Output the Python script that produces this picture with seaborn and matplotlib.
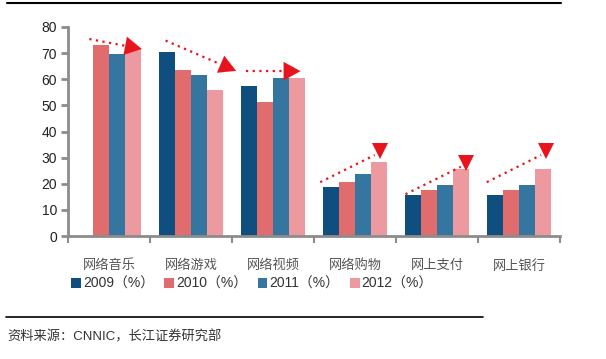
import numpy as np
import pandas as pd
import matplotlib
matplotlib.use("Agg")
import matplotlib.pyplot as plt
import seaborn as sns
from matplotlib.lines import Line2D
from matplotlib.patches import Patch

categories = ["网络音乐", "网络游戏", "网络视频", "网络购物", "网上支付", "网上银行"]
years = ["2009（%）", "2010（%）", "2011（%）", "2012（%）"]
v2009 = [np.nan, 70.4, 57.6, 18.8, 15.8, 15.8]
v2010 = [73.3, 63.6, 51.4, 20.8, 17.7, 17.7]
v2011 = [69.6, 61.8, 60.6, 23.8, 19.6, 19.6]
v2012 = [71.5, 55.8, 60.6, 28.5, 25.8, 25.8]
yticks = [0, 10, 20, 30, 40, 50, 60, 70, 80]
colors = ["#0E4F80", "#E06C6E", "#3476A0", "#EC9A9F"]

# trend arrows: (x0, y0, x1, y1, head)
arrows = [
    (-0.24, 75.4, 0.40, 71.6, "right"),
    (0.69, 74.8, 1.55, 63.2, "right"),
    (1.665, 63.1, 2.335, 63.1, "right"),
    (2.576, 20.6, 3.30, 32.6, "down"),
    (3.616, 16.0, 4.35, 28.1, "down"),
    (4.607, 20.6, 5.33, 32.6, "down"),
]

sns.set_theme(style="white")
plt.rcParams["font.family"] = ["Liberation Sans", "Noto Sans CJK SC"]

rows = []
for yr, vals in zip(years, [v2009, v2010, v2011, v2012]):
    for c, v in zip(categories, vals):
        rows.append({"cat": c, "year": yr, "val": v})
df = pd.DataFrame(rows)

fig = plt.figure(figsize=(6.06, 3.59), dpi=100)
ax = fig.add_axes([68/606, 1-236/359, (560-68)/606, (236-27)/359])

sns.barplot(data=df, x="cat", y="val", hue="year", order=categories,
            hue_order=years, palette=colors, width=0.78, saturation=1,
            ax=ax, legend=False, linewidth=0)

ax.set_ylim(0, 80)
ax.set_xlim(-0.5, 5.5)
ax.set_yticks(yticks)
ax.set_xlabel("")
ax.set_ylabel("")
for s in ["top", "right"]:
    ax.spines[s].set_visible(False)
for s in ["left", "bottom"]:
    ax.spines[s].set_color("#8C8C8C")
    ax.spines[s].set_linewidth(2)
ax.tick_params(axis="y", which="major", left=True, length=5, width=2,
               color="#8C8C8C", labelsize=10, labelcolor="#222222", pad=3)
ax.tick_params(axis="x", which="major", bottom=False, labelsize=9.5,
               labelcolor="#555555", pad=11)
ax.set_xticks(np.arange(-0.5, 6, 1), minor=True)
ax.tick_params(axis="x", which="minor", bottom=True, length=5, width=1.5,
               color="#8C8C8C")

red = "#E8141C"
for x0, y0, x1, y1, head in arrows:
    if head == "right":
        dx, dy = x1 - x0, y1 - y0
        f = 0.78
        xm, ym = x0 + dx * f, y0 + dy * f
        ax.plot([x0, xm], [y0, ym], linestyle=(0, (1, 2)), color=red, lw=1.6)
        ax.annotate("", xy=(x1, y1), xytext=(xm, ym),
                    arrowprops=dict(arrowstyle="-|>,head_length=1.0,head_width=0.55",
                                    color=red, lw=0.1, shrinkA=0, shrinkB=0))
    else:
        ax.plot([x0, x1 - 0.06], [y0, y1 - 1.6], linestyle=(0, (1, 2)),
                color=red, lw=1.6)
        ax.plot([x1], [y1], marker="v", color=red, markersize=11,
                markeredgewidth=0)

handles = [Patch(facecolor=c, edgecolor="none") for c in colors]
fig.legend(handles, years, loc="center left", bbox_to_anchor=(71/606, 1-284/359),
           ncol=4, frameon=False, fontsize=10, handlelength=0.7, handleheight=0.7,
           handletextpad=0.15, columnspacing=0.75, borderaxespad=0, borderpad=0,
           labelcolor="#333333")

fig.add_artist(Line2D([7/606, 561/606], [1-3/359, 1-3/359], color="black", lw=1.5))
fig.add_artist(Line2D([6/606, 483/606], [1-317/359, 1-317/359], color="black", lw=1.2))
fig.text(7/606, 1-337/359, "资料来源：CNNIC，长江证券研究部", fontsize=9.5,
         color="#333333", va="center", ha="left")

fig.savefig("out.png", dpi=100, facecolor="white")
